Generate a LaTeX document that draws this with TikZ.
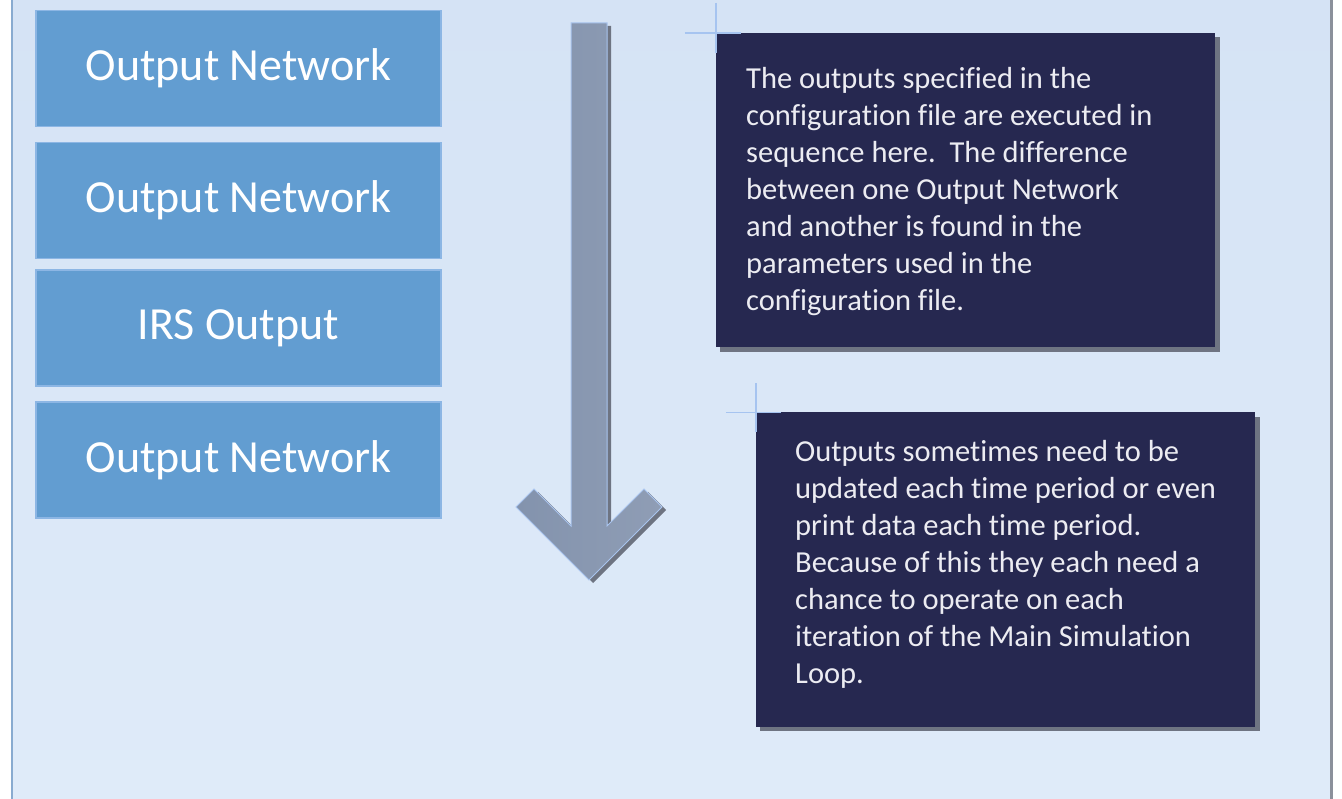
\documentclass[tikz,border=0pt]{standalone}
\usepackage{fontspec}
\setmainfont{Carlito}[Ligatures={NoCommon}]
\definecolor{bgtop}{HTML}{D5E3F5}
\definecolor{bgbot}{HTML}{DFEBF9}
\definecolor{boxblue}{HTML}{629DD1}
\definecolor{boxedge}{HTML}{8CB6E4}
\definecolor{navy}{HTML}{262850}
\definecolor{shadowgray}{HTML}{6E7482}
\definecolor{arrowfill}{HTML}{8F9DB5}
\definecolor{arrowdark}{HTML}{8393AD}
\definecolor{arrowedge}{HTML}{A9C4EE}
\definecolor{crossblue}{HTML}{A6C4F0}
\definecolor{txtwhite}{HTML}{ECECF2}
\tikzset{
  bluebox/.style={rectangle, fill=boxblue, draw=boxedge, line width=1.5pt,
    minimum width=405pt, minimum height=116pt, inner sep=0pt, text=white,
    font=\fontsize{46}{52}\selectfont},
  navybox/.style={rectangle, fill=navy, draw=none, minimum width=499pt,
    minimum height=314pt, inner sep=0pt},
  navytext/.style={anchor=north west, align=left, inner sep=0pt, text=txtwhite,
    font=\fontsize{30.5}{37}\selectfont},
  crossline/.style={draw=crossblue, line width=1.5pt},
}
\begin{document}
\begin{tikzpicture}[x=1pt,y=-1pt]
\useasboundingbox (0,0) rectangle (1342,799);
\fill[white] (0,0) rectangle (1342,799);
% background panel
\shade[top color=bgtop, bottom color=bgbot] (13,0) rectangle (1330,799);
\draw[draw=boxedge!80!gray, line width=2pt] (12,0) -- (12,799);
\draw[draw=shadowgray!80!white, line width=3pt] (1331.5,0) -- (1331.5,799);

% left boxes
\node[bluebox] (b1) at (238.5,68.5) {Output Network};
\node[bluebox] (b2) at (238.5,200.5) {Output Network};
\node[bluebox] (b3) at (238.5,328) {IRS Output};
\node[bluebox] (b4) at (238.5,460) {Output Network};

% big down arrow (shadow then body)
\fill[shadowgray, shift={(4,3)}] (571,23) -- (607,23) -- (607,526) -- (644,489) -- (662,507) -- (589,580) -- (516,507) -- (534,489) -- (571,526) -- cycle;
\shade[left color=arrowdark, right color=arrowfill, draw=arrowedge, line width=1pt]
  (571,23) -- (607,23) -- (607,526) -- (644,489) -- (662,507) -- (589,580) -- (516,507) -- (534,489) -- (571,526) -- cycle;

% navy box 1
\fill[shadowgray] (720,37) rectangle (1220,352);
\node[navybox] (n1) at (965.5,190) {};
\draw[crossline] (n1.north west) ++(0,-30) -- (n1.north west) -- ++(0,20);
\draw[crossline] (n1.north west) ++(-31,0) -- (n1.north west) -- ++(25,0);
\node[navytext] (t1) at (746,67) {The outputs specified in the\\configuration file are executed in\\sequence here.\ \ The difference\\between one Output Network\\and another is found in the\\parameters used in the\\configuration file.};

% navy box 2
\fill[shadowgray] (760,417) rectangle (1260,731);
\node[navybox] (n2) at (1005.5,569.5) {};
\draw[crossline] (n2.north west) ++(0,-29) -- (n2.north west) -- ++(0,20);
\draw[crossline] (n2.north west) ++(-30,0) -- (n2.north west) -- ++(25,0);
\node[navytext] (t2) at (795,440) {Outputs sometimes need to be\\updated each time period or even\\print data each time period.\\Because of this they each need a\\chance to operate on each\\iteration of the Main Simulation\\Loop.};
\end{tikzpicture}
\end{document}
